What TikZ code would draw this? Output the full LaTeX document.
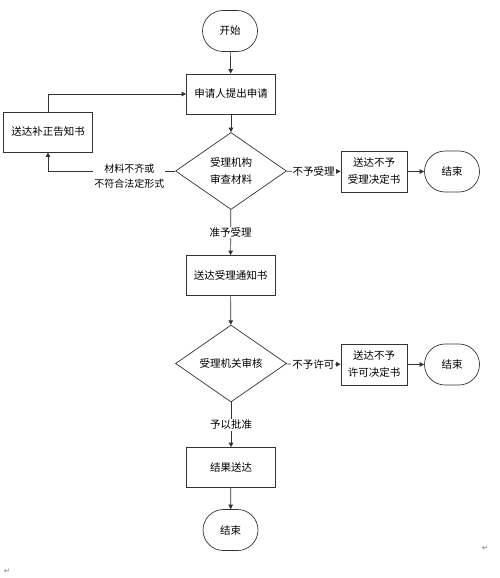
\documentclass[tikz,border=0pt]{standalone}
\usepackage{fontspec}
\setmainfont{Noto Sans CJK SC}
\newfontfamily\symfont{DejaVu Sans}
\usetikzlibrary{shapes.geometric, shapes.misc, arrows.meta}
\tikzstyle{term}=[rounded rectangle, draw=black!80, line width=.7pt, minimum width=57pt, minimum height=41pt, inner sep=1pt]
\tikzstyle{proc}=[rectangle, draw=black!80, line width=.7pt, minimum width=89pt, minimum height=40pt, inner sep=1pt, align=center]
\tikzstyle{sproc}=[proc, minimum width=66pt, minimum height=41pt]
\tikzstyle{dec}=[diamond, draw=black!80, line width=.7pt, minimum width=111pt, minimum height=77pt, inner sep=1pt, align=center]
\tikzstyle{lbl}=[fill=white, inner sep=1pt, align=center]
\tikzstyle{flow}=[line width=.7pt, draw=black!80, -{Triangle[length=4.5pt,width=4.5pt]}]

\begin{document}
\begin{tikzpicture}[x=1pt, y=-1pt, font=\fontsize{10.5}{17}\selectfont]
    \useasboundingbox (0,0) rectangle (500,578);
    \node[term] (start) at (230,31) {开始};
    \node[proc] (apply) at (231,94) {申请人提出申请};
    \node[dec] (d1) at (231,171) {受理机构\\审查材料};
    \node[proc] (corr) at (48,132) {送达补正告知书};
    \node[sproc] (rej1) at (374,171.5) {送达不予\\受理决定书};
    \node[term] (end1) at (452,171.5) {结束};
    \node[proc] (notice) at (230.5,275.5) {送达受理通知书};
    \node[dec] (d2) at (231,363.5) {受理机关审核};
    \node[sproc] (rej2) at (374,364.5) {送达不予\\许可决定书};
    \node[term] (end2) at (452,364.5) {结束};
    \node[proc] (result) at (231,467.5) {结果送达};
    \node[term] (end3) at (230.5,530) {结束};
    \foreach \from/\to in {start/apply, apply/d1, notice/d2, rej1/end1,
          rej2/end2, result/end3}
      \draw[flow] (\from) -- (\to);
    \draw[flow] (d1) -- node[lbl] {准予受理} (notice);
    \draw[flow] (d2) -- node[lbl] {予以批准} (result);
    \draw[flow] (d1) -- node[lbl] {不予受理} (rej1);
    \draw[flow] (d2) -- node[lbl] {不予许可} (rej2);
    \draw[flow] (d1.west) -| node[lbl, pos=.18, yshift=-5pt, font=\fontsize{10}{15}\selectfont] {材料不齐或\\不符合法定形式} (corr.south);
    \draw[flow] (corr.north) |- (apply.west);

    % return marks
    \node[font=\symfont\fontsize{7}{8}\selectfont, black!60] (r1) at (7,571) {↵};
    \node[font=\symfont\fontsize{7}{8}\selectfont, black!60] (r2) at (485,548) {↵};
\end{tikzpicture}
\end{document}
